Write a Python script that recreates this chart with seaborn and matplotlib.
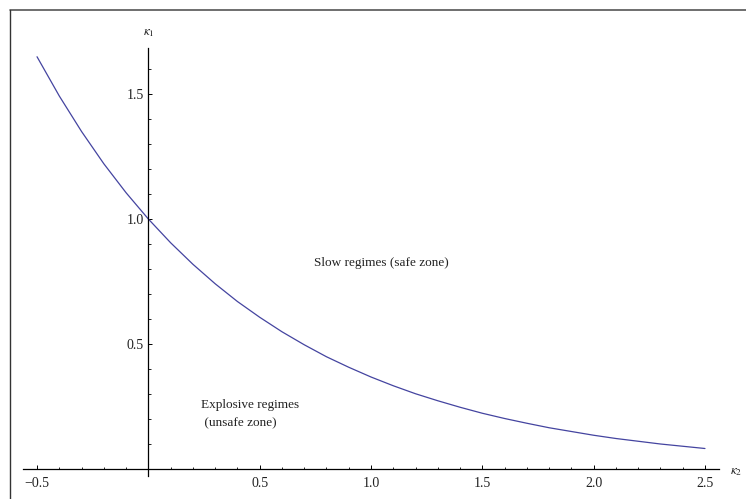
import numpy as np
import matplotlib
matplotlib.use("Agg")
import matplotlib.pyplot as plt
from matplotlib.lines import Line2D
from matplotlib.ticker import FixedLocator, MultipleLocator
import pandas as pd
import seaborn as sns

# Boundary curve between the two regimes (kappa_1 as a function of kappa_2)
kappa2 = [-0.5, -0.4, -0.3, -0.2, -0.1, 0.0, 0.1, 0.2, 0.3, 0.4,
          0.5, 0.6, 0.7, 0.8, 0.9, 1.0, 1.1, 1.2, 1.3, 1.4,
          1.5, 1.6, 1.7, 1.8, 1.9, 2.0, 2.1, 2.2, 2.3, 2.4, 2.5]
kappa1 = [1.649, 1.492, 1.350, 1.221, 1.105, 1.000, 0.905, 0.819, 0.741, 0.670,
          0.607, 0.549, 0.497, 0.449, 0.407, 0.368, 0.333, 0.301, 0.273, 0.247,
          0.223, 0.202, 0.183, 0.165, 0.150, 0.135, 0.122, 0.111, 0.100, 0.091,
          0.082]

x_major = [-0.5, 0.5, 1.0, 1.5, 2.0, 2.5]
x_labels = ["\u22120.5", "0.5", "1.0", "1.5", "2.0", "2.5"]
y_major = [0.5, 1.0, 1.5]
y_labels = ["0.5", "1.0", "1.5"]

sns.set_theme(style="white")
plt.rcParams["font.family"] = ["Liberation Serif", "DejaVu Serif"]
plt.rcParams["mathtext.fontset"] = "stix"

df = pd.DataFrame({"kappa2": kappa2, "kappa1": kappa1})

W, H = 746, 499
fig = plt.figure(figsize=(W / 100, H / 100), dpi=100)
fig.patch.set_facecolor("white")

ax = fig.add_axes([23 / W, 1 - 476 / H, (719 - 23) / W, (476 - 48) / H])
ax.set_facecolor("none")

sns.lineplot(data=df, x="kappa2", y="kappa1", ax=ax, color="#4444a0",
             linewidth=0.9, estimator=None, sort=False)

ax.set_xlim(-0.563, 2.563)
ax.set_ylim(-0.028, 1.684)

# Axes crossing at the origin
for side in ("top", "right"):
    ax.spines[side].set_visible(False)
ax.spines["left"].set_position(("data", 0))
ax.spines["bottom"].set_position(("data", 0))
for side in ("left", "bottom"):
    ax.spines[side].set_color("black")
    ax.spines[side].set_linewidth(0.9)

ax.xaxis.set_major_locator(FixedLocator(x_major))
ax.set_xticklabels(x_labels)
ax.xaxis.set_minor_locator(MultipleLocator(0.1))
ax.yaxis.set_major_locator(FixedLocator(y_major))
ax.set_yticklabels(y_labels)
ax.yaxis.set_minor_locator(MultipleLocator(0.1))

ax.tick_params(which="major", direction="in", length=3.2, width=0.7,
               color="black", labelsize=10, labelcolor="#222222")
ax.tick_params(which="minor", direction="in", length=1.8, width=0.6,
               color="black")
ax.tick_params(axis="x", which="major", pad=6)
ax.tick_params(axis="y", which="major", pad=3.5)
ax.tick_params(bottom=True, left=True, which="both")
ax.set_xlabel("")
ax.set_ylabel("")

# Axis names at the ends of the axes
ax.annotate(r"$\kappa_1$", xy=(0, 1.684), xycoords="data",
            xytext=(0, 15), textcoords="offset pixels",
            ha="center", va="center", fontsize=9.5, color="#222222")
ax.annotate(r"$\kappa_2$", xy=(2.563, 0), xycoords="data",
            xytext=(17, -3), textcoords="offset pixels",
            ha="center", va="center", fontsize=9.5, color="#222222")

# Region labels
ax.text(0.745, 0.825, "Slow regimes (safe zone)", ha="left", va="center",
        fontsize=9.5, color="#222222")
ax.text(0.235, 0.255, "Explosive regimes", ha="left", va="center",
        fontsize=9.5, color="#222222")
ax.text(0.235, 0.183, " (unsafe zone)", ha="left", va="center",
        fontsize=9.5, color="#222222")

# Frame lines along the top and left edges of the image
fig.add_artist(Line2D([10 / W, 1.0], [1 - 9.5 / H, 1 - 9.5 / H],
                      transform=fig.transFigure, color="#555555", linewidth=1.2))
fig.add_artist(Line2D([10 / W, 10 / W], [0.0, 1 - 9.5 / H],
                      transform=fig.transFigure, color="#333333", linewidth=1.0))

fig.savefig("out.png", dpi=100, facecolor="white")
